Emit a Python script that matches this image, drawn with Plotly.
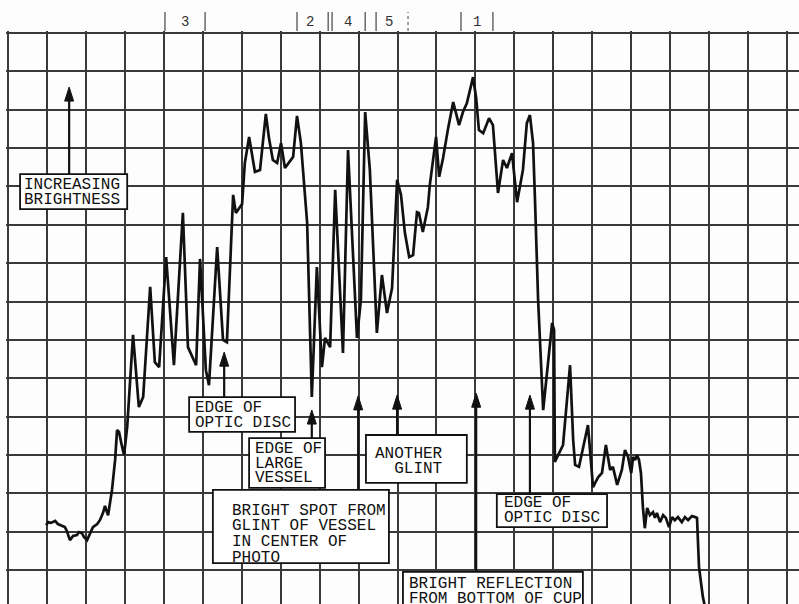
import plotly.graph_objects as go

# Densitometer trace across the fundus photo: position along the scan and
# recorded brightness, both in chart-paper divisions.
position = [
    0.98, 1.03, 1.10, 1.21, 1.28, 1.39, 1.46, 1.51, 1.59, 1.67, 1.77, 1.82, 1.90, 1.95,
    2.03, 2.11, 2.18, 2.29, 2.36, 2.44, 2.49, 2.54, 2.57, 2.67, 2.75, 2.80, 2.85, 2.93,
    2.98, 3.06, 3.21, 3.36, 3.47, 3.65, 3.77, 3.88, 4.06, 4.26, 4.49, 4.62, 4.83, 4.93,
    5.08, 5.16, 5.37, 5.52, 5.62, 5.78, 5.85, 6.01, 6.08, 6.19, 6.29, 6.34, 6.47, 6.62,
    6.70, 6.80, 6.91, 7.01, 7.11, 7.21, 7.32, 7.42, 7.52, 7.68, 7.80, 7.93, 8.06, 8.14,
    8.27, 8.40, 8.60, 8.73, 8.96, 9.06, 9.17, 9.29, 9.47, 9.60, 9.73, 9.86, 9.99, 10.09,
    10.19, 10.30, 10.40, 10.50, 10.55, 10.65, 10.78, 10.83, 10.99, 11.07, 11.17, 11.30,
    11.43, 11.58, 11.68, 11.78, 11.86, 11.94, 12.02, 12.09, 12.20, 12.35, 12.45, 12.58,
    12.71, 12.81, 12.94, 13.07, 13.22, 13.32, 13.40, 13.48, 13.53, 13.61, 13.74, 13.84,
    13.97, 14.02, 14.04, 14.25, 14.43, 14.51, 14.56, 14.66, 14.89, 15.02, 15.15, 15.25,
    15.35, 15.46, 15.53, 15.64, 15.76, 15.84, 15.92, 16.00, 16.05, 16.10, 16.15, 16.20,
    16.25, 16.30, 16.35, 16.41, 16.48, 16.56, 16.61, 16.66, 16.74, 16.82, 16.89, 16.97,
    17.05, 17.12, 17.20, 17.30, 17.38, 17.46, 17.56, 17.64, 17.69, 17.74, 17.84, 17.92,
]
brightness = [
    1.17, 1.25, 1.23, 1.28, 1.20, 1.15, 1.12, 1.02, 0.78, 0.89, 0.91, 0.99, 0.96, 0.86,
    0.78, 0.96, 1.12, 1.20, 1.30, 1.49, 1.67, 1.51, 1.43, 2.09, 2.87, 3.65, 3.60, 3.21,
    3.00, 3.73, 6.13, 4.25, 4.51, 7.38, 5.42, 5.29, 8.16, 5.34, 9.31, 5.81, 5.34, 8.11,
    5.21, 4.82, 8.42, 6.00, 5.94, 9.78, 9.31, 9.54, 10.61, 11.29, 10.64, 10.38, 10.43, 11.89,
    11.26, 10.69, 10.61, 11.13, 10.48, 10.61, 10.77, 11.84, 11.13, 9.05, 4.51, 7.90, 5.29, 6.05,
    5.81, 9.91, 5.66, 10.95, 6.05, 7.04, 11.94, 10.43, 6.18, 7.69, 6.70, 7.35, 10.17, 9.78,
    8.79, 8.16, 8.21, 9.33, 9.31, 8.81, 9.46, 10.04, 11.29, 10.25, 10.74, 11.52,
    12.20, 11.60, 11.94, 12.17, 12.51, 12.85, 12.30, 11.47, 11.39, 11.78, 11.60, 9.83,
    10.69, 10.48, 10.87, 9.59, 10.43, 11.65, 11.86, 11.13, 9.65, 7.04, 4.17, 5.21,
    6.44, 6.26, 2.82, 3.26, 5.34, 3.39, 2.74, 2.69, 3.78, 2.16, 2.42, 2.53,
    3.26, 2.61, 2.69, 2.22, 2.61, 3.13, 2.95, 2.53, 2.95, 2.87, 3.00, 2.87,
    2.53, 1.64, 1.09, 1.62, 1.43, 1.51, 1.36, 1.49, 1.25, 1.43, 1.36, 1.12,
    1.38, 1.30, 1.38, 1.25, 1.38, 1.30, 1.41, 1.38, 1.36, 0.08, -0.70, -1.09,
]

# Section markers along the top edge of the strip
section_labels = ["3", "2", "4", "5", "1"]
section_centers = [4.54, 7.75, 8.73, 9.78, 12.04]
section_edges = [4.03, 5.06, 7.42, 8.22, 8.32, 9.17, 9.45, 11.63, 12.45]
section_dashed_edge = 10.27

# Typed callout labels
callout_lines = [
    ["INCREASING", "BRIGHTNESS"],
    ["EDGE OF", "OPTIC DISC"],
    ["EDGE OF", "LARGE", "VESSEL"],
    ["BRIGHT SPOT FROM", "GLINT OF VESSEL", "IN CENTER OF", "PHOTO"],
    ["ANOTHER", "  GLINT"],
    ["BRIGHT REFLECTION", "FROM BOTTOM OF CUP"],
    ["EDGE OF", "OPTIC DISC"],
]

# Callout layout: box corners, text origin, line step and the arrow it carries
callout_layout = [
    dict(box=(0.31, 3.06, 9.41, 10.32), tx=0.37, ty=10.06, step=0.41, ax=1.57, tip=12.59),
    dict(box=(4.65, 7.37, 3.60, 4.51), tx=4.75, ty=4.25, step=0.41, ax=5.55, tip=5.68),
    dict(box=(6.19, 8.14, 2.14, 3.44), tx=6.29, ty=3.18, step=0.39, ax=7.80, tip=4.17),
    dict(box=(5.26, 9.78, 0.18, 2.09), tx=5.71, ty=1.56, step=0.41, ax=8.99, tip=4.54),
    dict(box=(9.19, 11.78, 2.27, 3.52), tx=9.38, ty=3.05, step=0.41, ax=9.99, tip=4.56),
    dict(box=(10.14, 14.76, -1.3, -0.05), tx=10.25, ty=-0.34, step=0.40, ax=12.02, tip=4.61),
    dict(box=(12.55, 15.38, 1.12, 1.98), tx=12.69, ty=1.77, step=0.40, ax=13.40, tip=4.56),
]

# Breaks in the ruled paper where the labels were pasted on: (x0, x1, y0, y1)
paper_breaks = [
    (5.65, 6.18, 3.00, 3.25),
    (8.14, 8.68, 2.98, 3.22),
    (6.13, 6.43, 6.97, 7.20),
]

INK = "#111111"
GRID = "#3a3a3a"
PAPER = "#fdfdfd"
TYPE_FONT = "Liberation Mono, Courier New, monospace"
HEAD_LEN = 0.365
HEAD_HALF = 0.115

fig = go.Figure()
fig.add_trace(go.Scatter(
    x=position, y=brightness, mode="lines",
    line=dict(color=INK, width=2.7), hoverinfo="skip", showlegend=False,
))

shapes = []
annotations = []

for x0, x1, y0, y1 in paper_breaks:
    shapes.append(dict(type="rect", xref="x", yref="y", x0=x0, x1=x1, y0=y0, y1=y1,
                       line=dict(width=0), fillcolor=PAPER, layer="below"))

for lines, lay in zip(callout_lines, callout_layout):
    x0, x1, y0, y1 = lay["box"]
    shapes.append(dict(type="rect", xref="x", yref="y", x0=x0, x1=x1, y0=y0, y1=y1,
                       line=dict(color=INK, width=1.8), fillcolor="white", layer="above"))
    for i, txt in enumerate(lines):
        annotations.append(dict(
            x=lay["tx"], y=lay["ty"] - i * lay["step"], xref="x", yref="y",
            text=txt.replace(" ", "\u00a0"), showarrow=False, xanchor="left", yanchor="middle",
            height=15, valign="middle",
            font=dict(family=TYPE_FONT, size=16, color=INK),
        ))
    ax, tip = lay["ax"], lay["tip"]
    shapes.append(dict(type="line", xref="x", yref="y", x0=ax, x1=ax, y0=y1, y1=tip - HEAD_LEN * 0.5,
                       line=dict(color=INK, width=2.2), layer="above"))
    shapes.append(dict(type="path", xref="x", yref="y",
                       path=f"M {ax} {tip} L {ax - HEAD_HALF} {tip - HEAD_LEN} L {ax + HEAD_HALF} {tip - HEAD_LEN} Z",
                       fillcolor=INK, line=dict(color=INK, width=1), layer="above"))

for xe in section_edges:
    shapes.append(dict(type="line", xref="x", yref="paper", x0=xe, x1=xe, y0=1.0, y1=1.033,
                       line=dict(color="#444444", width=1.2)))
shapes.append(dict(type="line", xref="x", yref="paper", x0=section_dashed_edge, x1=section_dashed_edge,
                   y0=1.0, y1=1.033, line=dict(color="#555555", width=1.1, dash="dot")))
for lab, xc in zip(section_labels, section_centers):
    annotations.append(dict(x=xc, y=1.0157, xref="x", yref="paper", text=lab, showarrow=False,
                            xanchor="center", yanchor="middle",
                            font=dict(family=TYPE_FONT, size=14, color="#333333")))

axis_common = dict(showticklabels=False, ticks="", showgrid=True, gridcolor=GRID, gridwidth=1.5,
                   zeroline=False, showline=False, dtick=1, tick0=0, fixedrange=True)

fig.update_layout(
    width=799, height=604,
    margin=dict(l=6, r=0, t=31, b=0),
    paper_bgcolor=PAPER, plot_bgcolor=PAPER,
    xaxis=dict(range=[-0.0513, 20.308], **axis_common),
    yaxis=dict(range=[-0.885, 14.052], **axis_common),
    shapes=shapes, annotations=annotations,
    showlegend=False,
)

fig.write_html("out.html", config={"displayModeBar": False})
